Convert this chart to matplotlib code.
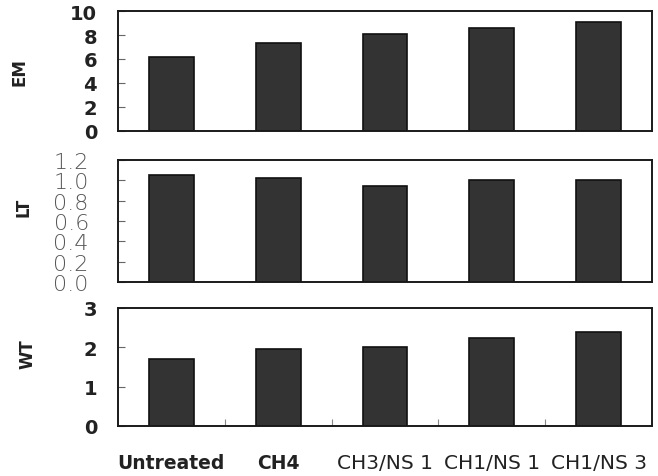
import matplotlib
matplotlib.use("Agg")
import matplotlib.pyplot as plt
import numpy as np

categories = ["Untreated", "CH4", "CH3/NS 1", "CH1/NS 1", "CH1/NS 3"]
em_values = [6.2, 7.3, 8.1, 8.6, 9.1]
lt_values = [1.05, 1.02, 0.94, 1.00, 1.00]
wt_values = [1.70, 1.97, 2.02, 2.25, 2.40]

fig = plt.figure(figsize=(6.58, 4.77), dpi=100)
W, H = 658, 477

def add_ax(top, bottom):
    l, r = 118, 652
    return fig.add_axes([l / W, 1 - bottom / H, (r - l) / W, (bottom - top) / H])

ax1 = add_ax(12, 132)
ax2 = add_ax(161, 283)
ax3 = add_ax(309, 427)

x = np.arange(len(categories))
bar_kw = dict(width=0.42, color="#333333", edgecolor="#111111", linewidth=1.2)

panels = [
    (ax1, em_values, "EM", (0, 10), [0, 2, 4, 6, 8, 10], ["0", "2", "4", "6", "8", "10"],
     (-0.168, 0.50)),
    (ax2, lt_values, "LT", (0, 1.2), [0, 0.2, 0.4, 0.6, 0.8, 1.0, 1.2],
     ["0.0", "0.2", "0.4", "0.6", "0.8", "1.0", "1.2"], (-0.161, 0.62)),
    (ax3, wt_values, "WT", (0, 3), [0, 1, 2, 3], ["0", "1", "2", "3"], (-0.152, 0.62)),
]

for ax, vals, lab, ylim, ticks, tlabels, lpos in panels:
    ax.bar(x, vals, **bar_kw)
    ax.set_xlim(-0.5, len(categories) - 0.5)
    ax.set_ylim(*ylim)
    ax.set_yticks(ticks)
    for s in ax.spines.values():
        s.set_linewidth(1.4)
        s.set_color("#1a1a1a")
    ax.tick_params(axis="y", direction="in", length=5, width=0.8, color="#666666", pad=15)
    if lab == "LT":
        ax.set_yticklabels(tlabels, fontsize=16, color="#555555", family="DejaVu Sans",
                           fontweight="light")
        ax.tick_params(axis="y", pad=21)
    else:
        ax.set_yticklabels(tlabels, fontsize=14, fontweight="bold", color="#222222")
    ax.set_ylabel(lab, fontsize=12, fontweight="bold", color="#222222")
    ax.yaxis.set_label_coords(*lpos)

for ax in (ax1, ax2):
    ax.set_xticks([])

ax3.set_xticks(x)
ax3.set_xticklabels([])
ax3.tick_params(axis="x", which="major", length=0)
ax3.set_xticks(np.arange(0.5, len(categories) - 0.5, 1.0), minor=True)
ax3.tick_params(axis="x", which="minor", direction="in", length=5, width=0.8, color="#888888")

weights = ["bold", "bold", "normal", "normal", "normal"]
sizes = [13.5, 13.5, 14.5, 14.5, 14.5]
for xi, c, w, fs in zip(x, categories, weights, sizes):
    ax3.text(xi, -0.31, c, transform=ax3.get_xaxis_transform(), ha="center", va="center",
             fontsize=fs, fontweight=w, color="#222222")

fig.savefig("out.png", dpi=100)
